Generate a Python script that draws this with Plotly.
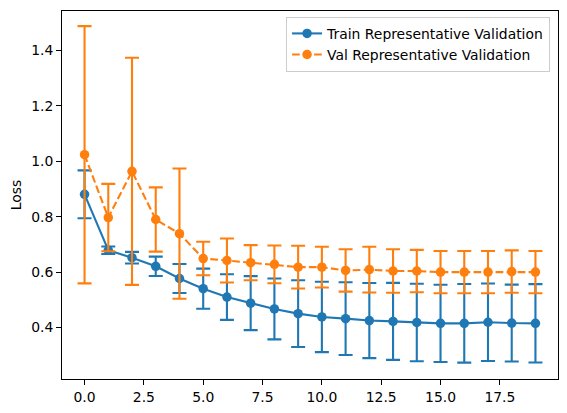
import plotly.graph_objects as go

epochs = list(range(20))
train_mean = [0.881, 0.679, 0.652, 0.621, 0.577, 0.540, 0.510, 0.488, 0.467, 0.450,
              0.438, 0.432, 0.425, 0.422, 0.418, 0.415, 0.415, 0.419, 0.416, 0.415]
train_std = [0.0865, 0.0135, 0.021, 0.035, 0.0525, 0.0725, 0.0825, 0.0975, 0.110, 0.1205,
             0.127, 0.1315, 0.1355, 0.139, 0.140, 0.1395, 0.142, 0.140, 0.139, 0.1415]
val_mean = [1.024, 0.797, 0.964, 0.790, 0.739, 0.649, 0.642, 0.634, 0.628, 0.618,
            0.618, 0.606, 0.609, 0.604, 0.604, 0.600, 0.600, 0.600, 0.602, 0.600]
val_std = [0.4645, 0.1215, 0.410, 0.116, 0.235, 0.0605, 0.0795, 0.0635, 0.068, 0.077,
           0.0735, 0.0765, 0.0825, 0.0785, 0.0765, 0.0765, 0.0765, 0.0765, 0.0765, 0.0765]

x_ticks = [0, 2.5, 5, 7.5, 10, 12.5, 15, 17.5]
x_tick_labels = ["0.0", "2.5", "5.0", "7.5", "10.0", "12.5", "15.0", "17.5"]
y_ticks = [0.4, 0.6, 0.8, 1.0, 1.2, 1.4]
y_tick_labels = ["0.4", "0.6", "0.8", "1.0", "1.2", "1.4"]

blue = "#1f77b4"
orange = "#ff7f0e"
FS = 13.9

fig = go.Figure()
fig.add_trace(go.Scatter(
    x=epochs, y=train_mean, mode="lines+markers",
    name="Train Representative Validation",
    line=dict(color=blue, width=2.1),
    marker=dict(color=blue, size=9.5),
    error_y=dict(type="data", array=train_std, visible=True,
                 color=blue, thickness=2.1, width=7),
))
fig.add_trace(go.Scatter(
    x=epochs, y=val_mean, mode="lines+markers",
    name="Val Representative Validation",
    line=dict(color=orange, width=2.1, dash="7.7px,3.3px"),
    marker=dict(color=orange, size=9.5),
    error_y=dict(type="data", array=val_std, visible=True,
                 color=orange, thickness=2.1, width=7),
))

axis_common = dict(
    showline=True, linecolor="black", linewidth=1, mirror=True,
    showgrid=False, zeroline=False, automargin=False,
    ticks="outside", ticklen=5, tickwidth=1, tickcolor="black",
    tickfont=dict(family="DejaVu Sans", size=FS, color="black"),
)

# The page body has an 8px default margin, so the figure is sized to fill the window from there.
fig.update_layout(
    width=559, height=405,
    margin=dict(l=54, r=9, t=3, b=34),
    paper_bgcolor="white", plot_bgcolor="white",
    font=dict(family="DejaVu Sans", size=FS, color="black"),
    showlegend=True,
    legend=dict(
        x=0.984, xanchor="right", y=0.984, yanchor="top",
        bgcolor="rgba(255,255,255,0.8)", bordercolor="#cccccc", borderwidth=1,
        font=dict(family="DejaVu Sans", size=FS, color="black"),
        tracegroupgap=0, itemwidth=30,
    ),
    xaxis=dict(range=[-0.95, 19.95], tickvals=x_ticks, ticktext=x_tick_labels, **axis_common),
    yaxis=dict(range=[0.214, 1.543], tickvals=y_ticks, ticktext=y_tick_labels,
               title=dict(text="Loss", font=dict(family="DejaVu Sans", size=FS), standoff=9),
               **axis_common),
)

fig.write_html("out.html")
